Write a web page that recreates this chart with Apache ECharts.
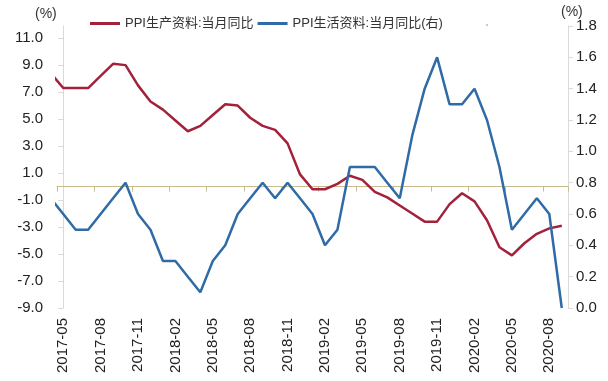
<!DOCTYPE html>
<html>
<head>
<meta charset="utf-8">
<script src="https://cdn.jsdelivr.net/npm/echarts@6/dist/echarts.min.js"></script>
<style>
html,body{margin:0;padding:0;background:#fff;}
#c{width:608px;height:381px;}
</style>
</head>
<body>
<div id="c"></div>
<script>
// Months incl. one leading month (2017-04) that is clipped at the plot edge
var months = ['2017-04','2017-05','2017-06','2017-07','2017-08','2017-09','2017-10','2017-11','2017-12',
  '2018-01','2018-02','2018-03','2018-04','2018-05','2018-06','2018-07','2018-08','2018-09','2018-10','2018-11','2018-12',
  '2019-01','2019-02','2019-03','2019-04','2019-05','2019-06','2019-07','2019-08','2019-09','2019-10','2019-11','2019-12',
  '2020-01','2020-02','2020-03','2020-04','2020-05','2020-06','2020-07','2020-08','2020-09'];
var prodName = 'PPI生产资料:当月同比';
var lifeName = 'PPI生活资料:当月同比(右)';
var prodValues = [8.4, 7.3, 7.3, 7.3, 8.2, 9.1, 9.0, 7.5, 6.3,
  5.7, 4.9, 4.1, 4.5, 5.3, 6.1, 6.0, 5.1, 4.5, 4.2, 3.2, 0.9,
  -0.2, -0.2, 0.2, 0.8, 0.5, -0.4, -0.8, -1.4, -2.0, -2.6, -2.6, -1.3,
  -0.5, -1.1, -2.5, -4.5, -5.1, -4.2, -3.5, -3.1, -2.9];
var lifeValues = [0.7, 0.6, 0.5, 0.5, 0.6, 0.7, 0.8, 0.6, 0.5,
  0.3, 0.3, 0.2, 0.1, 0.3, 0.4, 0.6, 0.7, 0.8, 0.7, 0.8, 0.7,
  0.6, 0.4, 0.5, 0.9, 0.9, 0.9, 0.8, 0.7, 1.1, 1.4, 1.6, 1.3,
  1.3, 1.4, 1.2, 0.9, 0.5, 0.6, 0.7, 0.6, 0.0];
var leftTicks = {min: -9, max: 11.9, interval: 2};
var rightTicks = {min: 0, max: 1.8, interval: 0.2};

var categories = months.slice(1);
function toPairs(vals){ return vals.map(function(v,i){ return [i-1, v]; }); }

var font = "'Liberation Sans', Arial, 'Noto Sans CJK SC', sans-serif";
var chart = echarts.init(document.getElementById('c'));
chart.setOption({
  animation: false,
  textStyle: {fontFamily: font},
  grid: {left: 57, right: 40, top: 26, bottom: 73},
  legend: {
    left: 90, top: 17, padding: 0, itemGap: 4, itemWidth: 30, itemHeight: 3, icon: 'rect',
    textStyle: {fontSize: 13, color: '#333', fontFamily: font},
    data: [prodName, lifeName]
  },
  graphic: [
    {type: 'text', left: 35, top: 7, style: {text: '(%)', font: '14px ' + font, fill: '#333'}},
    {type: 'text', left: 561, top: 5, style: {text: '(%)', font: '14px ' + font, fill: '#333'}},
    {type: 'circle', shape: {cx: 487, cy: 25, r: 0.8}, style: {fill: '#888'}}
  ],
  xAxis: [
    {type: 'category', data: categories, boundaryGap: true, position: 'bottom',
     axisLine: {show: false, onZero: false}, axisTick: {show: false},
     axisLabel: {interval: 2, rotate: 90, margin: 10, fontSize: 15, color: '#222'}},
    {type: 'category', data: categories, boundaryGap: true, position: 'top',
     axisLine: {show: true, onZero: true, onZeroAxisIndex: 0, lineStyle: {color: '#C8BC8E', width: 1}},
     axisTick: {show: true, inside: true, interval: 2, length: 5, lineStyle: {color: '#C8BC8E'}},
     axisLabel: {show: false}},
    {type: 'value', min: -0.5, max: 40.5, show: false}
  ],
  yAxis: [
    {type: 'value', min: leftTicks.min, max: leftTicks.max, interval: leftTicks.interval, position: 'left',
     axisLine: {show: true, lineStyle: {color: '#D9D9D9'}},
     axisTick: {show: true, length: 5, lineStyle: {color: '#D9D9D9'}},
     splitLine: {show: false},
     axisLabel: {showMaxLabel: false, margin: 14, fontSize: 15, color: '#222',
       formatter: function(v){ return v.toFixed(1); }}},
    {type: 'value', min: rightTicks.min, max: rightTicks.max, interval: rightTicks.interval, position: 'right',
     axisLine: {show: true, lineStyle: {color: '#D9D9D9'}},
     axisTick: {show: true, length: 5, lineStyle: {color: '#D9D9D9'}},
     splitLine: {show: false},
     axisLabel: {margin: 8, fontSize: 15, color: '#222',
       formatter: function(v){ return v.toFixed(1); }}}
  ],
  series: [
    {name: prodName, type: 'line', xAxisIndex: 2, yAxisIndex: 0, data: toPairs(prodValues),
     symbol: 'none', clip: true, lineStyle: {color: '#A3213B', width: 2.5}, itemStyle: {color: '#A3213B'}},
    {name: lifeName, type: 'line', xAxisIndex: 2, yAxisIndex: 1, data: toPairs(lifeValues),
     symbol: 'none', clip: true, lineStyle: {color: '#2F6BA6', width: 2.5}, itemStyle: {color: '#2F6BA6'}}
  ]
});
</script>
</body>
</html>
